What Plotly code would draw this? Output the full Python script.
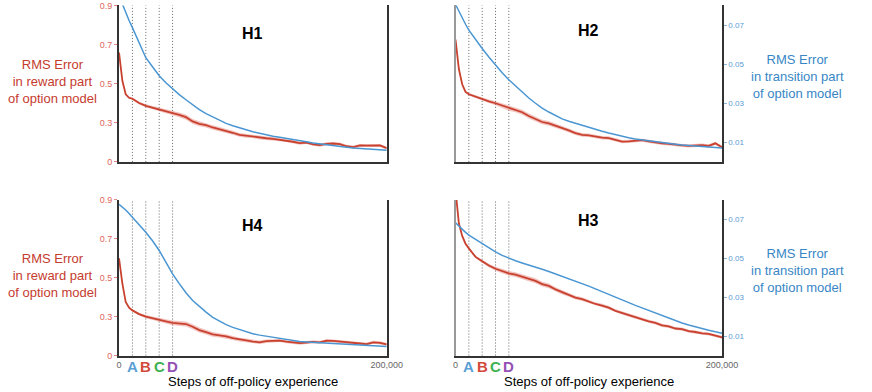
import plotly.graph_objects as go

# steps of off-policy experience (x positions of the sampled curve points)
steps = [0, 2500, 5000, 7500, 10000, 15000, 20000, 25000, 30000, 35000,
         40000, 45000, 50000, 55000, 60000, 65000, 70000, 75000, 80000, 85000,
         90000, 95000, 100000, 105000, 110000, 115000, 120000, 125000, 130000, 135000,
         140000, 145000, 150000, 155000, 160000, 165000, 170000, 175000, 180000, 185000,
         190000, 195000, 200000]

# RMS error in reward part (left axis)
h1_reward = [0.659, 0.515, 0.446, 0.428, 0.423, 0.401, 0.387, 0.378, 0.370, 0.362,
             0.350, 0.341, 0.329, 0.307, 0.295, 0.288, 0.276, 0.268, 0.259, 0.249,
             0.238, 0.233, 0.231, 0.223, 0.221, 0.218, 0.213, 0.210, 0.203, 0.196,
             0.199, 0.190, 0.186, 0.192, 0.194, 0.191, 0.180, 0.176, 0.184, 0.183,
             0.185, 0.184, 0.170]
h2_reward = [0.726, 0.575, 0.497, 0.458, 0.446, 0.433, 0.421, 0.410, 0.400, 0.388,
             0.374, 0.366, 0.354, 0.335, 0.318, 0.304, 0.297, 0.286, 0.274, 0.261,
             0.247, 0.238, 0.236, 0.230, 0.224, 0.222, 0.212, 0.204, 0.205, 0.209,
             0.211, 0.205, 0.199, 0.195, 0.192, 0.187, 0.184, 0.182, 0.184, 0.186,
             0.182, 0.195, 0.175]
h4_reward = [0.600, 0.470, 0.375, 0.346, 0.332, 0.313, 0.300, 0.291, 0.282, 0.276,
             0.268, 0.264, 0.262, 0.248, 0.231, 0.220, 0.209, 0.204, 0.199, 0.190,
             0.182, 0.178, 0.172, 0.168, 0.174, 0.176, 0.177, 0.171, 0.169, 0.164,
             0.167, 0.170, 0.168, 0.176, 0.175, 0.171, 0.170, 0.165, 0.162, 0.159,
             0.168, 0.165, 0.157]
h3_reward = [0.950, 0.780, 0.715, 0.675, 0.651, 0.607, 0.585, 0.563, 0.546, 0.533,
             0.522, 0.516, 0.504, 0.495, 0.484, 0.467, 0.458, 0.440, 0.425, 0.412,
             0.398, 0.390, 0.377, 0.365, 0.357, 0.346, 0.330, 0.319, 0.307, 0.295,
             0.287, 0.276, 0.268, 0.255, 0.250, 0.239, 0.236, 0.225, 0.221, 0.214,
             0.211, 0.203, 0.194]
reward_band = [0.004, 0.004, 0.005, 0.005, 0.006, 0.007, 0.008, 0.009, 0.010, 0.011,
               0.012, 0.012, 0.013, 0.013, 0.013, 0.012, 0.012, 0.011, 0.011, 0.010,
               0.010, 0.010, 0.009, 0.009, 0.009, 0.009, 0.008, 0.008, 0.008, 0.008,
               0.008, 0.008, 0.008, 0.008, 0.008, 0.008, 0.008, 0.008, 0.008, 0.008,
               0.008, 0.008, 0.008]

# RMS error in transition part (right axis)
h1_trans = [0.0850, 0.0805, 0.0764, 0.0723, 0.0687, 0.0610, 0.0533, 0.0487, 0.0441, 0.0405,
            0.0374, 0.0344, 0.0318, 0.0292, 0.0267, 0.0247, 0.0230, 0.0213, 0.0197, 0.0185,
            0.0174, 0.0164, 0.0154, 0.0146, 0.0138, 0.0131, 0.0126, 0.0121, 0.0115, 0.0108,
            0.0103, 0.0097, 0.0092, 0.0087, 0.0083, 0.0079, 0.0075, 0.0071, 0.0068, 0.0065,
            0.0063, 0.0061, 0.0059]
h2_trans = [0.0805, 0.0770, 0.0737, 0.0704, 0.0674, 0.0625, 0.0580, 0.0537, 0.0495, 0.0456,
            0.0420, 0.0388, 0.0355, 0.0327, 0.0300, 0.0275, 0.0255, 0.0237, 0.0220, 0.0208,
            0.0197, 0.0186, 0.0176, 0.0166, 0.0157, 0.0148, 0.0139, 0.0131, 0.0124, 0.0117,
            0.0112, 0.0107, 0.0102, 0.0098, 0.0094, 0.0090, 0.0086, 0.0083, 0.0080, 0.0077,
            0.0075, 0.0073, 0.0071]
h4_trans = [0.0778, 0.0765, 0.0748, 0.0730, 0.0711, 0.0673, 0.0634, 0.0590, 0.0540, 0.0480,
            0.0420, 0.0370, 0.0323, 0.0283, 0.0251, 0.0223, 0.0196, 0.0176, 0.0159, 0.0145,
            0.0133, 0.0122, 0.0112, 0.0105, 0.0099, 0.0093, 0.0087, 0.0081, 0.0076, 0.0072,
            0.0070, 0.0068, 0.0066, 0.0064, 0.0062, 0.0060, 0.0058, 0.0056, 0.0054, 0.0052,
            0.0050, 0.0048, 0.0046]
h3_trans = [0.0683, 0.0665, 0.0648, 0.0633, 0.0619, 0.0597, 0.0576, 0.0554, 0.0533, 0.0515,
            0.0499, 0.0487, 0.0476, 0.0466, 0.0455, 0.0444, 0.0432, 0.0420, 0.0408, 0.0396,
            0.0384, 0.0371, 0.0357, 0.0343, 0.0328, 0.0314, 0.0300, 0.0286, 0.0272, 0.0258,
            0.0245, 0.0231, 0.0217, 0.0204, 0.0191, 0.0179, 0.0167, 0.0157, 0.0147, 0.0139,
            0.0130, 0.0122, 0.0115]

checkpoints = [10000, 20000, 30000, 40000]
checkpoint_names = ['A', 'B', 'C', 'D']
checkpoint_colors = ['#5b9fd6', '#d24a3b', '#3db24f', '#9350b5']

left_ticks = [0.1, 0.3, 0.5, 0.7, 0.9]
left_text = ['0', '0.3', '0.5', '0.7', '0.9']
right_ticks = [0.01, 0.03, 0.05, 0.07]
right_text = ['0.01', '0.03', '0.05', '0.07']

RED = '#c9412f'
BLUE = '#4a96d2'
FONT = 'Liberation Sans, Arial, sans-serif'

# name, reward, transition, x domain, y domain, show left ticks, bottom row
panels = [
    ('H1', h1_reward, h1_trans, [0.1365, 0.4435], [0.587, 0.986], True, False),
    ('H2', h2_reward, h2_trans, [0.5224, 0.828], [0.587, 0.986], False, False),
    ('H4', h4_reward, h4_trans, [0.1365, 0.4435], [0.093, 0.490], True, True),
    ('H3', h3_reward, h3_trans, [0.5224, 0.828], [0.093, 0.490], False, True),
]
title_y = {'H1': 0.915, 'H2': 0.923, 'H4': 0.425, 'H3': 0.438}

fig = go.Figure()
layout = dict(width=872, height=392, margin=dict(l=0, r=0, t=0, b=0),
              paper_bgcolor='white', plot_bgcolor='white', showlegend=False,
              font=dict(family=FONT), shapes=[], annotations=[])

for i, (name, rew, tr, xd, yd, show_left, bottom) in enumerate(panels):
    n = i + 1
    xa = 'x' if n == 1 else 'x%d' % n
    yl = 2 * n - 1
    yr = 2 * n
    yla = 'y' if yl == 1 else 'y%d' % yl
    yra = 'y%d' % yr

    upper = [v + b for v, b in zip(rew, reward_band)]
    lower = [v - b for v, b in zip(rew, reward_band)]
    fig.add_trace(go.Scatter(x=steps, y=upper, xaxis=xa, yaxis=yla, mode='lines',
                             line=dict(width=0), hoverinfo='skip'))
    fig.add_trace(go.Scatter(x=steps, y=lower, xaxis=xa, yaxis=yla, mode='lines',
                             line=dict(width=0), fill='tonexty',
                             fillcolor='rgba(222,110,100,0.4)', hoverinfo='skip'))
    fig.add_trace(go.Scatter(x=steps, y=rew, xaxis=xa, yaxis=yla, mode='lines',
                             line=dict(color=RED, width=1.8)))
    fig.add_trace(go.Scatter(x=steps, y=tr, xaxis=xa, yaxis=yra, mode='lines',
                             line=dict(color=BLUE, width=1.5)))

    xkey = 'xaxis' if n == 1 else 'xaxis%d' % n
    layout[xkey] = dict(domain=xd, anchor=yla, range=[0, 200000], showgrid=False,
                        zeroline=False, showline=True, linecolor='#333', linewidth=2,
                        automargin=False,
                        tickvals=[0, 200000] if bottom else [],
                        ticktext=['0', '200,000'], ticks='',
                        tickfont=dict(size=9, color='#666'))
    lkey = 'yaxis' if yl == 1 else 'yaxis%d' % yl
    layout[lkey] = dict(domain=yd, anchor=xa, range=[0.1, 0.9], showgrid=False,
                        zeroline=False, showline=True, automargin=False,
                        linecolor='#333' if show_left else '#999', linewidth=2,
                        tickvals=left_ticks if show_left else [], ticktext=left_text,
                        ticks='outside' if show_left else '', ticklen=3,
                        tickcolor='#e58a80', tickfont=dict(size=9, color='#e0675c'))
    layout['yaxis%d' % yr] = dict(overlaying=yla, anchor=xa, side='right',
                                  range=[0, 0.08], showgrid=False, zeroline=False,
                                  showline=True, linecolor='#333', linewidth=1.5,
                                  automargin=False,
                                  tickvals=[] if show_left else right_ticks,
                                  ticktext=right_text,
                                  ticks='' if show_left else 'outside', ticklen=3,
                                  tickcolor='#8bb8e0',
                                  tickfont=dict(size=8, color='#5b9bd5'))

    for cp in checkpoints:
        layout['shapes'].append(dict(type='line', xref=xa, yref=yla + ' domain',
                                     x0=cp, x1=cp, y0=0, y1=1, layer='below',
                                     line=dict(color='#666', width=1, dash='1px,2px')))

    layout['annotations'].append(dict(text='<b>%s</b>' % name, xref=xa + ' domain',
                                      yref='paper', x=0.5, y=title_y[name],
                                      xanchor='center', yanchor='middle',
                                      showarrow=False, font=dict(size=16, color='black')))
    if bottom:
        for cp, lab, col in zip(checkpoints, checkpoint_names, checkpoint_colors):
            layout['annotations'].append(dict(text='<b>%s</b>' % lab, xref=xa, yref='paper',
                                              x=cp, y=0.064, xanchor='center',
                                              yanchor='middle', showarrow=False,
                                              font=dict(size=15, color=col)))
        layout['annotations'].append(dict(text='Steps of off-policy experience',
                                          xref=xa + ' domain', yref='paper',
                                          x=0.5, y=0.028, xanchor='center',
                                          yanchor='middle', showarrow=False,
                                          font=dict(size=13, color='black')))

# side labels
for yc in [0.793, 0.298]:
    layout['annotations'].append(dict(text='RMS Error<br>in reward part<br>of option model',
                                      xref='paper', yref='paper', x=0.06, y=yc,
                                      xanchor='center', yanchor='middle',
                                      showarrow=False, align='center',
                                      font=dict(size=13, color='#c53b2e')))
for yc in [0.805, 0.311]:
    layout['annotations'].append(dict(text='RMS Error<br>in transition part<br>of option model',
                                      xref='paper', yref='paper', x=0.915, y=yc,
                                      xanchor='center', yanchor='middle',
                                      showarrow=False, align='center',
                                      font=dict(size=13, color='#3886c6')))

fig.update_layout(**layout)
# the page body has a default 8px margin; drop it so the figure sits at the corner
fig.write_html("out.html", config={'displayModeBar': False},
               post_script="document.body.style.margin='0';")
